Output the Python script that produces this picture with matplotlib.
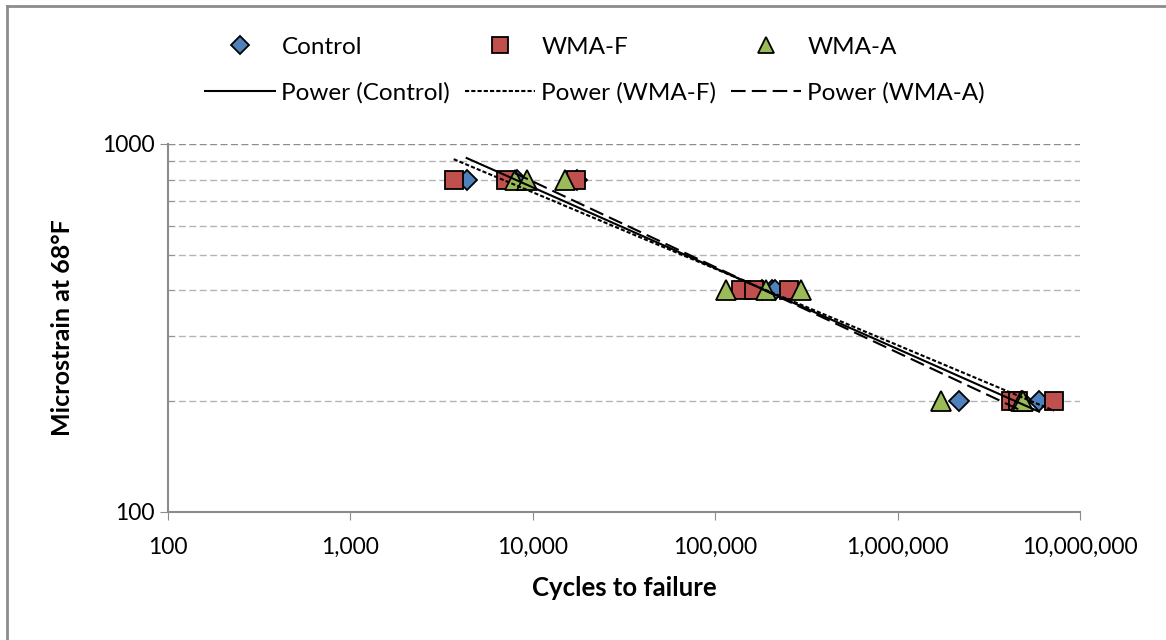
import numpy as np
import matplotlib.pyplot as plt
from matplotlib.lines import Line2D

plt.rcParams['font.family'] = ['Lato', 'DejaVu Sans']

# cycles to failure and microstrain
control_x = [4340, 8150, 17400, 180000, 205000, 214000, 2174000, 4800000, 5960000]
control_y = [800, 800, 800, 400, 400, 400, 200, 200, 200]
wmaf_x = [3684, 7100, 17150, 139000, 164000, 254900, 4187000, 4550000, 7200000]
wmaf_y = [800, 800, 800, 400, 400, 400, 200, 200, 200]
wmaa_x = [7950, 9250, 14930, 115200, 190600, 296300, 1733000, 4750000, 4900000]
wmaa_y = [800, 800, 800, 400, 400, 400, 200, 200, 200]

x_ticks = [100, 1000, 10000, 100000, 1000000, 10000000]
x_labels = ['100', '1,000', '10,000', '100,000', '1,000,000', '10,000,000']

fig = plt.figure(figsize=(11.66, 6.4), dpi=100)
ax = fig.add_axes([168/1166, 1-512/640, (1080-168)/1166, (512-144)/640])

# border of the chart area
fig.add_artist(Line2D([7/1166, 7/1166], [0, 1-6/640], color='#8c8c8c', lw=2))
fig.add_artist(Line2D([7/1166, 1], [1-6/640, 1-6/640], color='#8c8c8c', lw=2))

ax.set_xscale('log')
ax.set_yscale('log')
ax.set_xlim(100, 1e7)
ax.set_ylim(100, 1000)

for g in range(200, 1000, 100):
    ax.axhline(g, color='#b4b4b4', lw=1, ls=(0, (5, 2.5)), zorder=0)
ax.axhline(1000, color='#8c8c8c', lw=1, ls=(0, (5, 2.5)), zorder=0)

def power_fit(xs, ys):
    b, a = np.polyfit(np.log(xs), np.log(ys), 1)
    xx = np.array([min(xs), max(xs)])
    return xx, np.exp(a) * xx ** b

ax.plot(control_x, control_y, 'D', ms=10, mfc='#4f81bd', mec='black', mew=1.3, zorder=3)
ax.plot(wmaf_x, wmaf_y, 's', ms=13, mfc='#c0504d', mec='black', mew=1.3, zorder=3)
ax.plot(wmaa_x, wmaa_y, '^', ms=14, mfc='#9bbb59', mec='black', mew=1.3, zorder=3)

xx, yy = power_fit(control_x, control_y)
ax.plot(xx, yy, color='black', lw=1.5, zorder=4)
xx, yy = power_fit(wmaf_x, wmaf_y)
ax.plot(xx, yy, color='black', lw=1.5, ls=(0, (2, 1)), zorder=4)
xx, yy = power_fit(wmaa_x, wmaa_y)
ax.plot(xx, yy, color='black', lw=1.5, ls=(0, (7, 3)), zorder=4)

ax.set_xticks(x_ticks)
ax.set_xticklabels(x_labels)
ax.set_yticks([100, 1000])
ax.set_yticklabels(['100', '1000'])
ax.xaxis.set_minor_locator(plt.NullLocator())
ax.tick_params(axis='both', which='major', labelsize=16.5, color='#8c8c8c', length=6, direction='out')
ax.tick_params(axis='x', pad=12)
ax.tick_params(axis='y', which='minor', color='#8c8c8c', length=4, direction='in')
ax.yaxis.set_minor_formatter(plt.NullFormatter())

for s in ['top', 'right']:
    ax.spines[s].set_visible(False)
for s in ['left', 'bottom']:
    ax.spines[s].set_color('#8c8c8c')
    ax.spines[s].set_linewidth(1.5)

ax.set_xlabel('Cycles to failure', fontsize=18.5, fontweight='bold', labelpad=13)
ax.set_ylabel('Microstrain at 68°F', fontsize=18, fontweight='bold', labelpad=20)

handles = [
    Line2D([], [], ls='', marker='D', ms=9, mfc='#4f81bd', mec='black', mew=1.3),
    Line2D([], [], color='black', lw=1.5),
    Line2D([], [], ls='', marker='s', ms=12, mfc='#c0504d', mec='black', mew=1.3),
    Line2D([], [], color='black', lw=1.5, ls=(0, (2, 1))),
    Line2D([], [], ls='', marker='^', ms=12, mfc='#9bbb59', mec='black', mew=1.3),
    Line2D([], [], color='black', lw=1.5, ls=(0, (7, 3))),
]
labels = ['Control', 'Power (Control)', 'WMA-F', 'Power (WMA-F)', 'WMA-A', 'Power (WMA-A)']
fig.legend(handles, labels, loc='center', bbox_to_anchor=(595/1166, 1-70/640), ncol=3,
           frameon=False, fontsize=17.5, handlelength=2.9, handletextpad=0.25,
           columnspacing=0.6, labelspacing=1.0)

fig.savefig('out.png', dpi=100)
